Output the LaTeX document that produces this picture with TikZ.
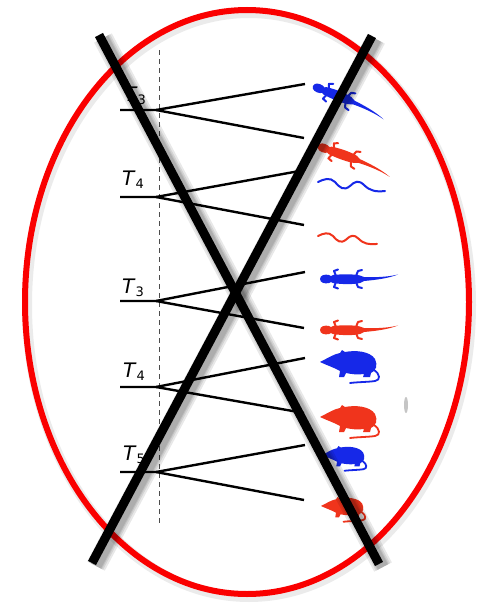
\documentclass[tikz,border=0pt]{standalone}
\usepackage{fontspec}
\setmainfont{DejaVu Sans}
\usetikzlibrary{calc}
\newcommand{\agelab}[1]{\textit{T}\raisebox{-0.35ex}{\fontsize{13}{13}\selectfont #1}}
\begin{document}
\begin{tikzpicture}[x=1pt,y=-1pt]
\definecolor{liz blue}{RGB}{22,40,232}
\definecolor{liz red}{RGB}{240,52,28}
\definecolor{ring red}{RGB}{250,0,0}
\tikzset{
  branch/.style={line width=2.4pt, black},
  timeline/.style={dash pattern=on 5pt off 4pt, line width=0.8pt, black!70},
  lab/.style={anchor=base west, inner sep=0pt, font=\fontsize{20}{20}\selectfont},
  crossbar/.style={line width=9pt, black},
  crossshade/.style={line width=#1, black, opacity=0.09},
  ring/.style={line width=6pt, ring red},
  lizard/.pic={
    \fill (0,0) .. controls (0,-4) and (5,-5) .. (9,-4) -- (11,-3)
      -- (13,-4) .. controls (22,-5) and (34,-5) .. (40,-3.5) -- (44,-2)
      .. controls (55,-1.5) and (68,-2) .. (78,-4.5)
      .. controls (68,-0.5) and (55,1) .. (44,2) -- (40,4)
      .. controls (34,5.5) and (22,5.5) .. (13,4) -- (11,3) -- (9,4)
      .. controls (5,5) and (0,4) .. (0,0) -- cycle;
    \draw[line width=2pt, line cap=round, line join=round]
      (16,-3) -- (14,-8) -- (18,-9.5) (16,3) -- (14,8) -- (18,9.5)
      (36,-3) -- (38,-8) -- (42,-9) (36,3) -- (38,8) -- (42,9);
  },
  snake/.pic={
    \draw[line width=2pt, line cap=round]
      (0,0) .. controls (6,-3) and (12,-5) .. (17,0)
      .. controls (22,6) and (26,9) .. (32,4)
      .. controls (37,-1) and (41,-2) .. (46,3)
      .. controls (52,9) and (58,10) .. (67,9);
  },
  rat/.pic={
    \fill (0,0) .. controls (8,-4) and (14,-8) .. (20,-9) -- (22,-12) -- (25,-10)
      .. controls (35,-12) and (50,-11) .. (55,-3)
      .. controls (58,3) and (56,9) .. (51,11) -- (50,15) -- (43,15) -- (44,12)
      .. controls (38,13) and (30,12) .. (26,11) -- (24,15) -- (19,15) -- (20,9)
      .. controls (13,5) and (6,3) .. (0,0) -- cycle;
    \draw[line width=1.8pt, line cap=round]
      (54,8) .. controls (60,12) and (61,18) .. (55,19)
      .. controls (49,20) and (38,20) .. (30,21);
  },
}
\useasboundingbox (0,0) rectangle (487,605);
\fill[white] (0,0) rectangle (487,605);

% time axis
\coordinate (axtop) at (159,50);
\coordinate (axbot) at (159,525);
\draw[timeline] (axtop) -- (axbot);

% tree branches: stem, junction, upper and lower tip
\foreach \i/\y/\u/\d in {1/110/84/138, 2/197/170/225, 3/301/272/328, 4/387/358/413, 5/472/445/500}{
  \coordinate (s\i) at (120,\y);
  \coordinate (j\i) at (156,\y);
  \coordinate (u\i) at (305,\u);
  \coordinate (d\i) at (304,\d);
  \draw[branch] (s\i) -- (j\i) -- (u\i);
  \draw[branch] (j\i) -- (d\i);
}

% node-age labels
\node[lab] (t1) at (124,101) {\agelab{3}};
\node[lab] (t2) at (122,185) {\agelab{4}};
\node[lab] (t3) at (122,293) {\agelab{3}};
\node[lab] (t4) at (123,377) {\agelab{4}};
\node[lab] (t5) at (123,460) {\agelab{5}};

% taxa
\pic[liz blue, rotate=-22, yscale=-1] (a1) at (313,86) {lizard};
\pic[liz red, rotate=-20, yscale=-1] (a2) at (318,146) {lizard};
\pic[liz blue] (a3) at (318,182) {snake};
\pic[liz red, scale=0.88] (a4) at (318,236) {snake};
\pic[liz blue] (a5) at (320,279) {lizard};
\pic[liz red] (a6) at (320,330) {lizard};
\pic[liz blue] (a7) at (320,362) {rat};
\pic[liz red] (a8) at (320,417) {rat};
\pic[liz blue, scale=0.75] (a9) at (322,455) {rat};
\pic[liz red, scale=0.75] (a10) at (321,506) {rat};
\fill[black!45, opacity=0.5] (406,405) ellipse [x radius=2pt, y radius=8pt];

% red ring
\coordinate (rc) at (247,302);
\draw[black, opacity=0.08, line width=10pt] ($(rc)+(2,3)$) ellipse [x radius=222pt, y radius=292pt];
\draw[ring] (rc) ellipse [x radius=222pt, y radius=292pt];

% crossing bars with soft shadow
\coordinate (xa1) at (99,35);
\coordinate (xa2) at (379,564);
\coordinate (xb1) at (372,36);
\coordinate (xb2) at (92,563);
\foreach \w in {20pt,16pt,13pt,11pt}{
  \draw[crossshade=\w, transform canvas={shift={(4pt,-3pt)}}] (xa1) -- (xa2);
  \draw[crossshade=\w, transform canvas={shift={(4pt,-3pt)}}] (xb1) -- (xb2);
}
\draw[crossbar] (xa1) -- (xa2);
\draw[crossbar] (xb1) -- (xb2);
\end{tikzpicture}
\end{document}
